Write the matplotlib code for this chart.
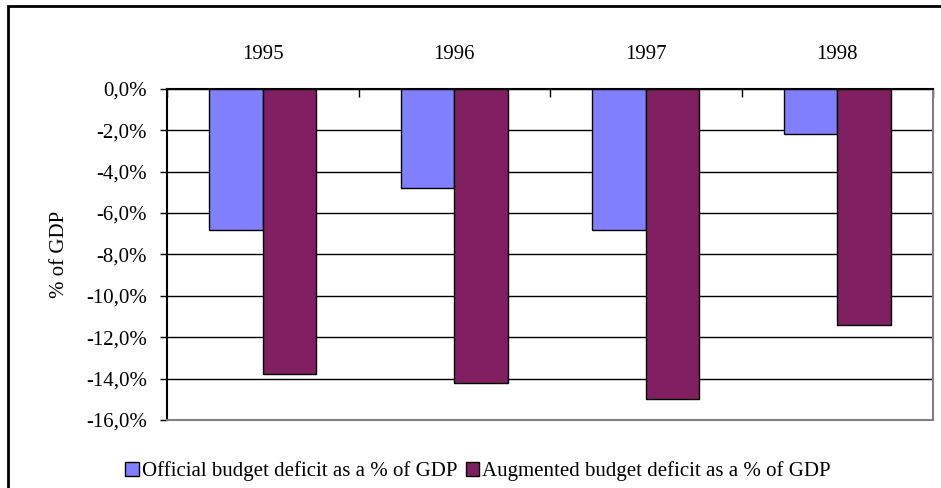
import matplotlib
matplotlib.use("Agg")
import matplotlib.pyplot as plt
import numpy as np
from matplotlib.patches import Patch, Rectangle
from matplotlib.ticker import FuncFormatter

years = ["1995", "1996", "1997", "1998"]
official = [-6.8, -4.8, -6.8, -2.2]
augmented = [-13.8, -14.2, -15.0, -11.4]
series_names = ["Official budget deficit as a % of GDP", "Augmented budget deficit as a % of GDP"]
colors = ["#8080FF", "#802060"]

plt.rcParams['font.family'] = ['Liberation Serif', 'DejaVu Serif']
FS = 15

W, H = 941, 488
fig = plt.figure(figsize=(W/100, H/100), dpi=100)
ax = fig.add_axes([167/W, 1-420/H, (933-167)/W, (420-88.7)/H])

x = np.arange(len(years))
bw = 0.28
ax.bar(x - bw/2, official, bw, color=colors[0], edgecolor='black', linewidth=1.0, zorder=3)
ax.bar(x + bw/2, augmented, bw, color=colors[1], edgecolor='black', linewidth=1.0, zorder=3)

ax.set_xlim(-0.5, len(years) - 0.5)
ax.set_ylim(-16, 0)
ax.set_yticks(np.arange(-16, 0.1, 2))
ax.yaxis.set_major_formatter(FuncFormatter(lambda v, p: f"{v:.1f}%".replace('.', ',')))
ax.grid(axis='y', color='black', linewidth=1.0, zorder=1)
ax.tick_params(axis='y', direction='out', length=5, width=1, labelsize=FS, pad=9.5, colors='black')

# category boundary ticks on the top axis, year labels on top
ax.xaxis.tick_top()
ax.set_xticks(np.arange(-0.5, len(years), 1.0))
ax.set_xticklabels([])
ax.tick_params(axis='x', which='major', direction='in', length=6, width=1)
ax.set_xticks(x, minor=True)
ax.set_xticklabels(years, minor=True)
ax.tick_params(axis='x', which='minor', length=0, labelsize=FS, pad=18)

for s in ['left', 'top']:
    ax.spines[s].set_color('black')
    ax.spines[s].set_linewidth(1.5)
for s in ['right', 'bottom']:
    ax.spines[s].set_color('#808080')
    ax.spines[s].set_linewidth(1.5)
ax.spines['top'].set_zorder(4)

ax.set_ylabel("% of GDP", fontsize=FS, labelpad=12)

handles = [Patch(facecolor=c, edgecolor='black', linewidth=1.0) for c in colors]
fig.legend(handles, series_names, loc='center', bbox_to_anchor=(478/W, 1-471/H),
           ncol=2, frameon=False, fontsize=FS, handlelength=0.65, handleheight=0.65,
           handletextpad=0.15, columnspacing=0.4, borderpad=0)

# outer chart frame
fig.patches.append(Rectangle((8/W, -0.05), 1.1, 1 - 6/H + 0.05, transform=fig.transFigure,
                             fill=False, edgecolor='black', linewidth=2))

fig.savefig("out.png", dpi=100)
